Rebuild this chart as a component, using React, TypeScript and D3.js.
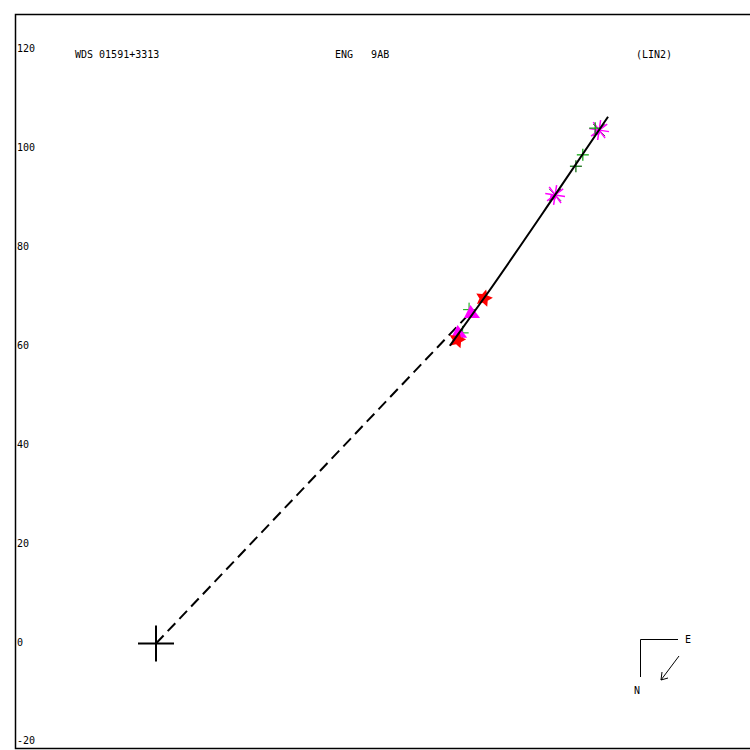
import React from "react";
import * as d3 from "d3";

const yTicks = [-20, 0, 20, 40, 60, 80, 100, 120];
const titleLeft = "WDS 01591+3313";
const titleMid = "ENG   9AB";
const titleRight = "(LIN2)";

const fitX = [59.4, 66.3, 80.7, 91.4];
const fitY = [60.2, 69.8, 90.7, 106.5];
const dashX = [0, 62.9];
const dashY = [0, 66.2];

const starX = [60.9, 66.3];
const starY = [61.4, 69.8];
const triX = [61.3, 63.9];
const triY = [62.8, 66.8];
const greenSmallX = [62.0, 63.3];
const greenSmallY = [62.8, 67.5];
const astX = [80.7, 89.6];
const astY = [90.7, 103.8];
const plusDarkX = [84.9];
const plusDarkY = [96.5];
const plusGreenX = [86.3, 88.8];
const plusGreenY = [98.8, 104.2];

const W = 750;
const H = 750;

export default function App() {
  const y = d3.scaleLinear().domain([0, 120]).range([643.5, 50]);
  const k = (643.5 - 50) / 120;
  const x = d3.scaleLinear().domain([0, 100]).range([156, 156 + 100 * k]);
  const line = d3.line<[number, number]>().x((d) => x(d[0])).y((d) => y(d[1]));
  const fitPts = fitX.map((v, i) => [v, fitY[i]] as [number, number]);
  const dashPts = dashX.map((v, i) => [v, dashY[i]] as [number, number]);

  const starPath = (cx: number, cy: number, R: number) => {
    const r = R * 0.5;
    const pts: string[] = [];
    for (let i = 0; i < 10; i++) {
      const a = -Math.PI / 2 + (i * Math.PI) / 5 + 0.25;
      const rr = i % 2 === 0 ? R : r;
      pts.push(`${cx + rr * Math.cos(a)},${cy + rr * Math.sin(a)}`);
    }
    return "M" + pts.join("L") + "Z";
  };
  const triPath = (cx: number, cy: number, s: number) =>
    `M${cx - s * 0.2},${cy - s}L${cx + s},${cy + s * 0.6}L${cx - s},${cy + s * 0.6}Z`;

  const font = "'DejaVu Sans Mono', monospace";

  return (
    <svg width={W} height={H} style={{ position: "absolute", left: 0, top: 0, background: "#fff" }}>
      <rect x={0} y={0} width={W} height={H} fill="#fff" />
      <path d={`M${W + 5},14.5H15.5V748.5H${W + 5}`} fill="none" stroke="#000" strokeWidth={1.5} />
      {yTicks.map((t) => (
        <text key={t} x={17} y={y(t) + 2} fontFamily={font} fontSize={10} fill="#000">
          {t}
        </text>
      ))}
      <text x={75} y={58} fontFamily={font} fontSize={10} fill="#000" style={{ whiteSpace: "pre" }}>
        {titleLeft}
      </text>
      <text x={335} y={58} fontFamily={font} fontSize={10} fill="#000" style={{ whiteSpace: "pre" }} xmlSpace="preserve">
        {titleMid}
      </text>
      <text x={636} y={58} fontFamily={font} fontSize={10} fill="#000">
        {titleRight}
      </text>

      {/* primary */}
      <line x1={x(0) - 18} x2={x(0) + 18} y1={y(0)} y2={y(0)} stroke="#000" strokeWidth={2} />
      <line x1={x(0)} x2={x(0)} y1={y(0) - 18} y2={y(0) + 18} stroke="#000" strokeWidth={2} />

      {/* dashed line */}
      <path d={line(dashPts) || ""} fill="none" stroke="#000" strokeWidth={2} strokeDasharray="11,6" />

      {/* green small crosses (partially hidden) */}
      {greenSmallX.map((v, i) => (
        <g key={"gs" + i} stroke="#00a000" strokeWidth={1}>
          <line x1={x(v) - 6} x2={x(v) + 6} y1={y(greenSmallY[i])} y2={y(greenSmallY[i])} />
          <line x1={x(v)} x2={x(v)} y1={y(greenSmallY[i]) - 7} y2={y(greenSmallY[i]) + 7} />
        </g>
      ))}

      {/* triangles */}
      {triX.map((v, i) => (
        <path key={"t" + i} d={triPath(x(v), y(triY[i]), 8)} fill="#ff00ff" />
      ))}
      {/* stars */}
      {starX.map((v, i) => (
        <path key={"s" + i} d={starPath(x(v), y(starY[i]), 9)} fill="#ff0000" />
      ))}

      {/* asterisks */}
      {astX.map((v, i) => {
        const cx = x(v);
        const cy = y(astY[i]);
        return (
          <g key={"a" + i}>
            <line x1={cx - 6} y1={cy - 6} x2={cx + 6} y2={cy + 6} stroke="#555" strokeWidth={1} />
            <line x1={cx - 6} y1={cy + 6} x2={cx + 6} y2={cy - 6} stroke="#555" strokeWidth={1} />
            {d3.range(8).map((j) => {
              const a = (j * Math.PI) / 4 + 0.15;
              return (
                <line
                  key={j}
                  x1={cx}
                  y1={cy}
                  x2={cx + 10 * Math.cos(a)}
                  y2={cy + 10 * Math.sin(a)}
                  stroke="#ff00ff"
                  strokeWidth={1.5}
                />
              );
            })}
            <circle cx={cx - 2} cy={cy + 2} r={3} fill="#ff00ff" />
          </g>
        );
      })}

      {/* crosses */}
      {plusDarkX.map((v, i) => (
        <g key={"pd" + i} stroke="#006400" strokeWidth={1.2}>
          <line x1={x(v) - 6} x2={x(v) + 6} y1={y(plusDarkY[i])} y2={y(plusDarkY[i])} />
          <line x1={x(v)} x2={x(v)} y1={y(plusDarkY[i]) - 6} y2={y(plusDarkY[i]) + 6} />
        </g>
      ))}
      {plusGreenX.map((v, i) => (
        <g key={"pg" + i} stroke="#00a000" strokeWidth={1.2}>
          <line x1={x(v) - 6} x2={x(v) + 6} y1={y(plusGreenY[i])} y2={y(plusGreenY[i])} />
          <line x1={x(v)} x2={x(v)} y1={y(plusGreenY[i]) - 6} y2={y(plusGreenY[i]) + 6} />
        </g>
      ))}

      {/* fit line */}
      <path d={line.curve(d3.curveMonotoneY)(fitPts) || ""} fill="none" stroke="#000" strokeWidth={2} />

      {/* compass */}
      <path d="M678,639.5H640.5V677" fill="none" stroke="#000" strokeWidth={1} />
      <text x={685} y={643} fontFamily={font} fontSize={10} fill="#000">E</text>
      <text x={634} y={694} fontFamily={font} fontSize={10} fill="#000">N</text>
      <line x1={679} y1={656} x2={661} y2={680} stroke="#000" strokeWidth={1} />
      <line x1={661} y1={680} x2={662} y2={672} stroke="#000" strokeWidth={1} />
      <line x1={661} y1={680} x2={668} y2={678} stroke="#000" strokeWidth={1} />
    </svg>
  );
}
